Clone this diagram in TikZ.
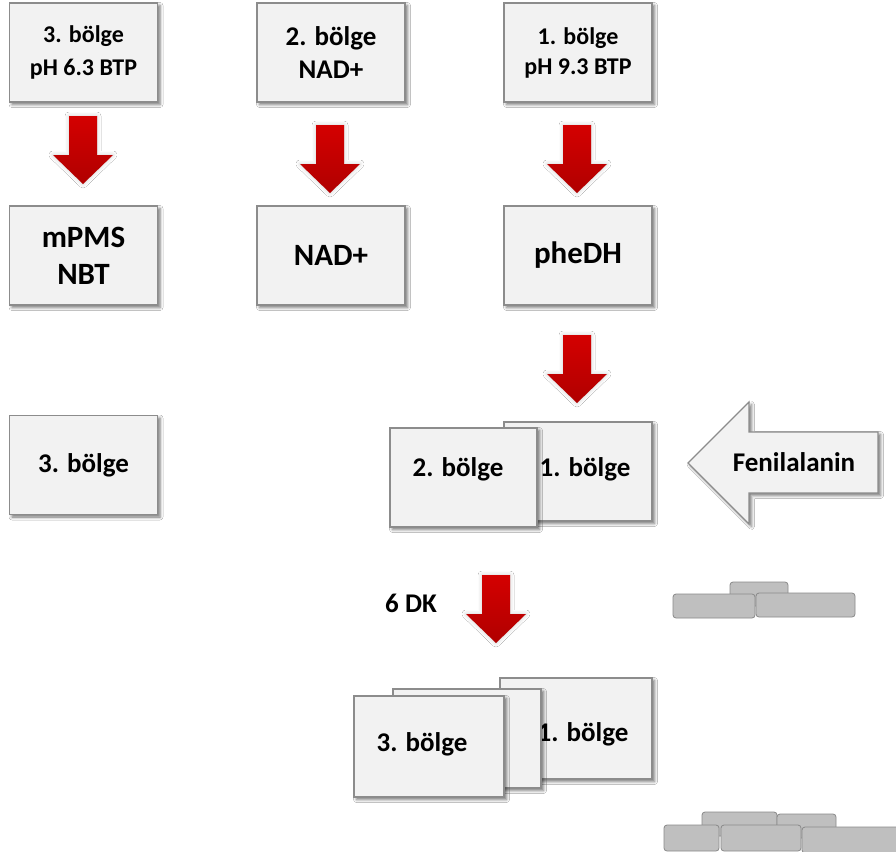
\documentclass[tikz,border=0pt]{standalone}
\usepackage{fontspec}
\setmainfont{Carlito}
\usetikzlibrary{shadows.blur}
\definecolor{boxfill}{HTML}{F2F2F2}
\definecolor{boxline}{HTML}{8C8C8C}
\definecolor{barfill}{HTML}{BFBFBF}
\definecolor{barline}{HTML}{8A8A8A}
\definecolor{arrtop}{HTML}{D40000}
\definecolor{arrbot}{HTML}{B00000}
\tikzset{
  panel/.style={draw=boxline, fill=boxfill, line width=1.1pt, inner sep=0pt,
    minimum width=148pt, minimum height=99pt,
    blur shadow={shadow xshift=2.5pt, shadow yshift=-2.5pt, shadow blur radius=3pt, shadow opacity=55}},
  lbl/.style={font=\bfseries\fontsize{27}{33}\selectfont, align=center, inner sep=0pt, text=black},
  lblsm/.style={font=\bfseries\fontsize{24}{33}\selectfont, align=center, inner sep=0pt, text=black},
  lblbig/.style={font=\bfseries\fontsize{31}{37}\selectfont, align=center, inner sep=0pt, text=black},
  bar/.style={draw=barline, fill=barfill, line width=0.8pt, rounded corners=3pt},
  redarr/.style={top color=arrtop, bottom color=arrbot, draw=none,
    blur shadow={shadow xshift=0pt, shadow yshift=0pt, shadow blur radius=4pt, shadow opacity=20}},
  downarr/.pic={
    \path[redarr] (-14,0) -- (14,0) -- (14,39) -- (30,39) -- (0,68) -- (-30,39) -- (-14,39) -- cycle;
  }
}
\begin{document}
\begin{tikzpicture}[x=1pt,y=-1pt]
\useasboundingbox (0,0) rectangle (896,851);
\clip (0,0) rectangle (896,851);
\fill[white] (0,0) rectangle (896,851);

% top row
\node[panel] (a1) at (83.5,52.5) {};
\node[lblsm] (ta1) at (a1.center) {3. bölge\\pH 6.3 BTP};
\node[panel] (b1) at (331,52.5) {};
\node[lbl] (tb1) at (b1.center) {2. bölge\\NAD+};
\node[panel] (c1) at (578,52.5) {};
\node[lblsm, font=\bfseries\fontsize{24}{30}\selectfont] (tc1) at (c1.center) {1. bölge\\pH 9.3 BTP};

% arrows row 1
\pic at (83,116) {downarr};
\pic at (330,125) {downarr};
\pic at (577,125) {downarr};

% second row
\node[panel] (a2) at (83.5,255.5) {};
\node[lblbig] (ta2) at (a2.center) {mPMS\\NBT};
\node[panel] (b2) at (331,255.5) {};
\node[lblbig] (tb2) at (b2.center) {NAD+};
\node[panel] (c2) at (578,255.5) {};
\node[lblbig] (tc2) at (c2.center) {pheDH};

% arrow to middle pair
\pic at (577,335) {downarr};

% left third zone
\node[panel] (a3) at (83.5,465) {};
\node[lbl] (ta3) at (a3.center) {3. bölge};

% middle pair
\node[panel] (m1) at (578,471.5) {};
\node[lbl] (tm1) at (585,469) {1. bölge};
\node[panel, minimum width=147pt] (m2) at (463.5,477.5) {};
\node[lbl] (tm2) at (458,469) {2. bölge};

% Fenilalanin arrow
\path[draw=boxline, fill=boxfill, line width=1.1pt,
  blur shadow={shadow xshift=2.5pt, shadow yshift=-2.5pt, shadow blur radius=3pt, shadow opacity=55}]
  (688,463) -- (749,402) -- (749,432) -- (878,432) -- (878,493) -- (749,493) -- (749,524) -- cycle;
\node[lbl] (fen) at (794,462) {Fenilalanin};

% 6 DK arrow
\node[lbl] (dk) at (411,603) {6 DK};
\pic at (496,575) {downarr};

% bottom stack
\node[panel, minimum width=152pt, minimum height=101pt] (s1) at (576,728.5) {};
\node[lbl] (ts1) at (583,734) {1. bölge};
\node[panel, minimum width=148pt] (s2) at (467,738.5) {};
\node[panel, minimum width=150pt, minimum height=101pt] (s3) at (429,746.5) {};
\node[lbl] (ts3) at (422,744) {3. bölge};

% grey bars, upper group
\path[bar] (730,582) rectangle (788,606);
\path[bar] (673,594) rectangle (755,618);
\path[bar] (756,593) rectangle (855,617);

% grey bars, lower group
\path[bar] (702,812) rectangle (777,836);
\path[bar] (777,814) rectangle (836,838);
\path[bar] (664,825) rectangle (719,851);
\path[bar] (721,825) rectangle (801,851);
\path[bar] (802,827) rectangle (905,853);
\end{tikzpicture}
\end{document}
